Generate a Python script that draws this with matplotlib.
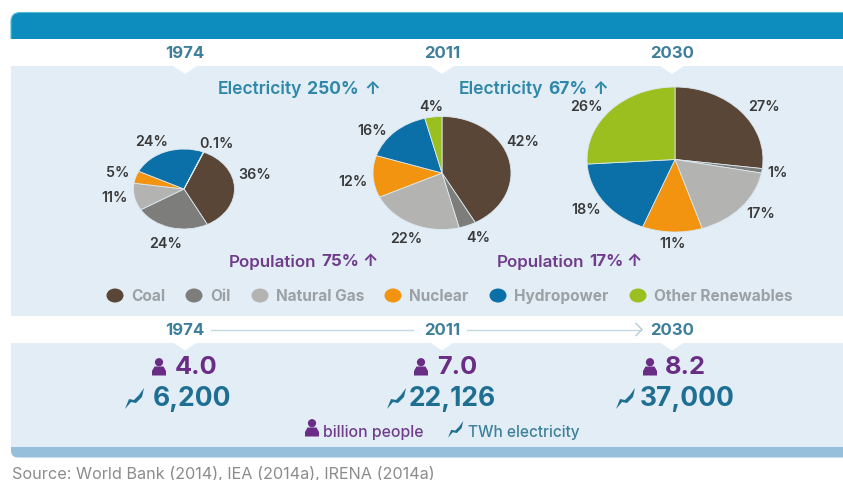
import matplotlib
matplotlib.use("Agg")
import matplotlib.pyplot as plt
from matplotlib.patches import Rectangle, Polygon, Ellipse, FancyBboxPatch, Circle

W, H = 843, 481

# Shares of electricity generation by source
years = ["1974", "2011", "2030"]
sources = ["Coal", "Oil", "Natural Gas", "Nuclear", "Hydropower", "Other Renewables"]
colors = ["#5a4636", "#7d7d7b", "#b3b3b1", "#f29410", "#0b6fa8", "#9bbf1f"]
shares_1974 = [36, 24, 11, 5, 24, 0.1]
shares_2011 = [42, 4, 22, 12, 16, 4]
shares_2030 = [27, 1, 17, 11, 18, 26]

# Totals per year
population = ["4.0", "7.0", "8.2"]
electricity = ["6,200", "22,126", "37,000"]
electricity_growth = ["250%", "67%"]
population_growth = ["75%", "17%"]

TEAL = "#3d7f9b"
BRIGHT = "#2f88a8"
DEEP = "#1f6f92"
PURPLE = "#6a2d85"
SANS = ["Inter", "DejaVu Sans"]

fig = plt.figure(figsize=(W / 100, H / 100), dpi=100, facecolor="white")
ax = fig.add_axes([0, 0, 1, 1])
ax.set_xlim(0, W)
ax.set_ylim(H, 0)
ax.axis("off")


def label(x, y, s, size, color, weight="bold", ha="center"):
    return ax.text(x, y, s, fontsize=size, color=color, fontweight=weight,
                   ha=ha, va="center", family=SANS)


def run(x, y, parts, size, color):
    # Lays out several differently weighted pieces of text on one line
    renderer = fig.canvas.get_renderer()
    for s, weight, gap in parts:
        t = label(x, y, s, size, color, weight, "left")
        x += t.get_window_extent(renderer).width + gap


def person(x, y, scale=1.0, color=PURPLE):
    ax.add_patch(Circle((x, y - 4.8 * scale), 4.1 * scale, fc=color, ec="none"))
    body = [(-7, 8.5), (7, 8.5), (7, 4), (4.5, -0.5), (-4.5, -0.5), (-7, 4)]
    ax.add_patch(Polygon([(x + a * scale, y + b * scale) for a, b in body], closed=True,
                         fc=color, ec="none", joinstyle="round"))


def bolt(x, y, scale=1.0, color=DEEP):
    pts = [(-10, 11), (-6, 1), (-1, 2), (4, -3), (9, -10), (7, -1), (1, 5), (-4, 4)]
    ax.add_patch(Polygon([(x + a * scale, y + b * scale) for a, b in pts], closed=True,
                         fc=color, ec="none"))


# Header bar, panels and footer bar
ax.add_patch(FancyBboxPatch((11, 13.5), 900, 40, boxstyle="round,pad=0,rounding_size=9",
                            fc="#0d8dbd", ec="#54bcd6", lw=0.8))
ax.add_patch(Rectangle((0, 39.5), W, 28, fc="white", ec="none"))
ax.add_patch(FancyBboxPatch((11, 425), 900, 33.5, boxstyle="round,pad=0,rounding_size=7",
                            fc="#95bfdb", ec="none"))
ax.add_patch(Rectangle((11, 67), W, 249.5, fc="#e2edf6", ec="none"))
ax.add_patch(Rectangle((11, 343.5), W, 104.2, fc="#e2edf6", ec="none"))

# White notches beneath the year labels
for cx in (185, 442, 672):
    ax.add_patch(Polygon([(cx - 12, 67), (cx + 12, 67), (cx, 75)], fc="white", ec="none"))
    ax.add_patch(Polygon([(cx - 12, 343.5), (cx + 12, 343.5), (cx, 351.5)], fc="white", ec="none"))

for cx, y in zip((185, 442, 672), years):
    label(cx, 53.5, y, 12, TEAL)
    label(cx, 331, y, 12, TEAL)

# Timeline connecting the years
ax.plot([211, 413], [330.5, 330.5], color="#c3dae2", lw=1)
ax.plot([467, 641], [330.5, 330.5], color="#c3dae2", lw=1)
ax.plot([636, 642, 636], [324.5, 330.5, 336.5], color="#b4ccd5", lw=1)

# One pie per year: centre x, centre y, horizontal radius, vertical radius, start angle
pies = [
    (shares_1974, 184, 190, 50.5, 40, 67),
    (shares_2011, 442, 174, 69, 56.5, 90),
    (shares_2030, 675, 160.5, 88, 72.5, 90),
]
for values, cx, cy, rx, ry, start in pies:
    pie_ax = fig.add_axes([(cx - rx) / W, 1 - (cy + ry) / H, 2 * rx / W, 2 * ry / H])
    pie_ax.pie(values, colors=colors, startangle=start, counterclock=False,
               wedgeprops={"edgecolor": "#dce8f0", "linewidth": 0.6})
    pie_ax.set_aspect("auto")
    pie_ax.set_xlim(-1, 1)
    pie_ax.set_ylim(-1, 1)
    pie_ax.patch.set_visible(False)

# Value labels around each pie, in source order
label_spots = [
    (shares_1974, [(255, 175), (166, 244), (115, 198), (118, 173), (152, 142), (216, 144)]),
    (shares_2011, [(523, 142), (478, 238), (406, 239), (353, 182), (372, 131), (431, 107)]),
    (shares_2030, [(764, 107), (778, 173), (761, 214), (672, 244), (586, 210), (586, 107)]),
]
for values, spots in label_spots:
    for v, (x, y) in zip(values, spots):
        label(x, y, f"{v:g}%", 10.3, "#3a3a3a", "semibold")

# Growth callouts
for x, g in zip((218, 459), electricity_growth):
    run(x, 89, [("Electricity", "semibold", 5), (g, "bold", 5), ("↑", "bold", 0)], 12.6, BRIGHT)
for x, g in zip((229, 497), population_growth):
    run(x, 262, [("Population", "semibold", 5), (g, "bold", 3), ("↑", "bold", 0)], 12.2, "#6f3d8c")

# Legend row
for mx, name, c in zip((115, 194, 260, 393, 498, 638), sources, colors):
    ax.add_patch(Ellipse((mx, 296.5), 17, 14, fc=c, ec="none"))
    label(mx + 16, 297, name, 11.1, "#9ba1a4", "bold", "left")

# Population and electricity totals
for (px, tx), s in zip(((159, 175), (421, 437), (650, 665)), population):
    person(px, 368)
    label(tx, 368, s, 18.3, PURPLE, "bold", "left")
for (bx, tx), s in zip(((135, 153), (397, 409), (626, 640)), electricity):
    bolt(bx, 399)
    label(tx, 399, s, 19, DEEP, "bold", "left")

# Key for the two icons
person(312, 429)
label(323, 432.5, "billion people", 11.4, "#6f3d8c", "medium", "left")
bolt(456, 430, 0.8)
label(468, 432.5, "TWh electricity", 11.1, "#3d8099", "medium", "left")

label(12, 474.5, "Source: World Bank (2014), IEA (2014a), IRENA (2014a)", 11.7,
      "#8c8c8c", "normal", "left")

fig.savefig("out.png", dpi=100, facecolor="white")
